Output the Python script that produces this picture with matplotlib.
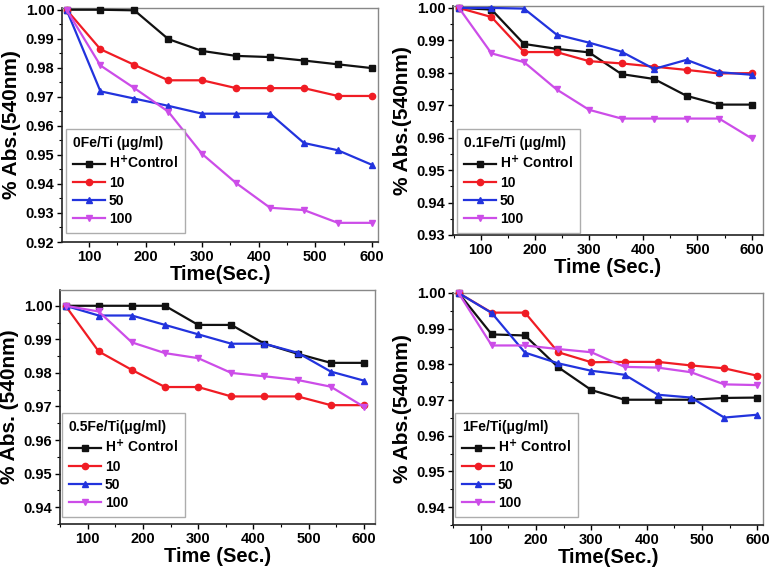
import numpy as np
import matplotlib
matplotlib.use('Agg')
import matplotlib.pyplot as plt
from matplotlib.ticker import MultipleLocator

plt.rcParams['font.family'] = ['Liberation Sans', 'DejaVu Sans']
plt.rcParams['font.weight'] = 'bold'

time = [60, 120, 180, 240, 300, 360, 420, 480, 540, 600]

# 0Fe/Ti
fe0_control = [1.000, 1.000, 0.9998, 0.9899, 0.9858, 0.9841, 0.9837, 0.9825, 0.9812, 0.9799]
fe0_10 = [1.000, 0.9864, 0.9810, 0.9757, 0.9757, 0.9730, 0.9730, 0.9730, 0.9703, 0.9703]
fe0_50 = [1.000, 0.9719, 0.9694, 0.9669, 0.9642, 0.9642, 0.9642, 0.9541, 0.9516, 0.9466]
fe0_100 = [1.000, 0.9808, 0.9730, 0.9649, 0.9503, 0.9403, 0.9318, 0.9310, 0.9266, 0.9266]

# 0.1Fe/Ti
fe01_control = [1.000, 0.9995, 0.9889, 0.9874, 0.9863, 0.9796, 0.9781, 0.9729, 0.9702, 0.9702]
fe01_10 = [1.000, 0.9972, 0.9864, 0.9864, 0.9836, 0.9829, 0.9819, 0.9809, 0.9798, 0.9799]
fe01_50 = [1.000, 1.000, 0.9998, 0.9918, 0.9893, 0.9865, 0.9812, 0.9840, 0.9802, 0.9794]
fe01_100 = [1.000, 0.9860, 0.9833, 0.9749, 0.9686, 0.9659, 0.9659, 0.9659, 0.9659, 0.9598]

# 0.5Fe/Ti
fe05_control = [1.000, 1.000, 1.000, 1.000, 0.9943, 0.9943, 0.9887, 0.9857, 0.9830, 0.9830]
fe05_10 = [1.000, 0.9864, 0.9809, 0.9758, 0.9758, 0.9730, 0.9730, 0.9730, 0.9704, 0.9704]
fe05_50 = [1.000, 0.9971, 0.9971, 0.9943, 0.9915, 0.9887, 0.9887, 0.9860, 0.9804, 0.9777]
fe05_100 = [1.000, 0.9983, 0.9891, 0.9859, 0.9844, 0.9800, 0.9790, 0.9779, 0.9759, 0.9699]

# 1Fe/Ti
fe1_control = [1.000, 0.9884, 0.9881, 0.9792, 0.9728, 0.9701, 0.9701, 0.9701, 0.9706, 0.9707]
fe1_10 = [1.000, 0.9945, 0.9945, 0.9834, 0.9806, 0.9807, 0.9807, 0.9797, 0.9789, 0.9768]
fe1_50 = [1.000, 0.9944, 0.9833, 0.9803, 0.9782, 0.9771, 0.9715, 0.9707, 0.9651, 0.9659]
fe1_100 = [1.000, 0.9853, 0.9853, 0.9843, 0.9834, 0.9793, 0.9791, 0.9778, 0.9744, 0.9742]

colors = ['#111111', '#f01c24', '#2233dd', '#cc4de8']
markers = ['s', 'o', '^', 'v']

W, H = 770, 574
fig = plt.figure(figsize=(7.7, 5.74), dpi=100)


def px_axes(left, top, right, bottom):
    return fig.add_axes([left / W, 1 - bottom / H, (right - left) / W, (bottom - top) / H])


panels = [
    dict(box=(62, 8, 378, 242), data=[fe0_control, fe0_10, fe0_50, fe0_100],
         ylim=(0.92, 1.0006), yticks=np.arange(0.92, 1.0001, 0.01), xlim=(52, 611),
         title='0Fe/Ti (\u03bcg/ml)', ctrl='H$^{+}$Control', xlabel='Time(Sec.)',
         ylabel='% Abs.(540nm)', leg=(66, 233)),
    dict(box=(453, 6, 763, 235), data=[fe01_control, fe01_10, fe01_50, fe01_100],
         ylim=(0.93, 1.0006), yticks=np.arange(0.93, 1.0001, 0.01), xlim=(49, 621),
         title='0.1Fe/Ti (\u03bcg/ml)', ctrl='H$^{+}$ Control', xlabel='Time (Sec.)',
         ylabel='% Abs.(540nm)', leg=(457, 233)),
    dict(box=(60, 290, 375, 524), data=[fe05_control, fe05_10, fe05_50, fe05_100],
         ylim=(0.935, 1.0047), yticks=np.arange(0.94, 1.0001, 0.01), xlim=(50, 620),
         title='0.5Fe/Ti(\u03bcg/ml)', ctrl='H$^{+}$ Control', xlabel='Time (Sec.)',
         ylabel='% Abs. (540nm)', leg=(62, 517)),
    dict(box=(453, 293, 763, 525), data=[fe1_control, fe1_10, fe1_50, fe1_100],
         ylim=(0.935, 1.0), yticks=np.arange(0.94, 1.0001, 0.01), xlim=(50, 610),
         title='1Fe/Ti(\u03bcg/ml)', ctrl='H$^{+}$ Control', xlabel='Time(Sec.)',
         ylabel='% Abs.(540nm)', leg=(455, 517)),
]

for p in panels:
    ax = px_axes(*p['box'])
    labels = [p['ctrl'], '10', '50', '100']
    lines = []
    for vals, c, m, lab in zip(p['data'], colors, markers, labels):
        ln, = ax.plot(time, vals, color=c, marker=m, markersize=4.5, lw=1.6,
                      label=lab, clip_on=False, zorder=3)
        lines.append(ln)
    ax.set_xlim(*p['xlim'])
    ax.set_ylim(*p['ylim'])
    ax.set_yticks(p['yticks'])
    ax.set_yticklabels(['%.2f' % v for v in p['yticks']])
    ax.set_xticks([100, 200, 300, 400, 500, 600])
    ax.xaxis.set_minor_locator(MultipleLocator(50))
    ax.yaxis.set_minor_locator(MultipleLocator(0.005))
    ax.tick_params(which='major', direction='out', length=3.5, width=1, labelsize=10.5, pad=2)
    ax.tick_params(which='minor', direction='out', length=2, width=0.8)
    for lab in ax.get_xticklabels() + ax.get_yticklabels():
        lab.set_fontweight('bold')
    for side in ['left', 'bottom']:
        ax.spines[side].set_color('#222222')
        ax.spines[side].set_linewidth(1.2)
    for side in ['top', 'right']:
        ax.spines[side].set_color('#888888')
        ax.spines[side].set_linewidth(1.0)
    ax.set_xlabel(p['xlabel'], fontsize=14.5, fontweight='bold', labelpad=1)
    ax.set_ylabel(p['ylabel'], fontsize=15, fontweight='bold', labelpad=3)

    l, b = p['leg']
    pos = ax.get_position()
    lx = (l / W - pos.x0) / pos.width
    ly = ((1 - b / H) - pos.y0) / pos.height
    leg = ax.legend(handles=lines, loc='lower left', bbox_to_anchor=(lx, ly),
                    title=p['title'], fontsize=10, title_fontsize=10,
                    frameon=True, fancybox=False, edgecolor='#999999',
                    handlelength=2.3, handletextpad=0.3, labelspacing=0.3,
                    borderpad=0.5, borderaxespad=0)
    leg.get_title().set_fontweight('bold')
    leg._legend_box.align = 'left'
    leg.get_frame().set_linewidth(1.0)
    for txt in leg.get_texts():
        txt.set_fontweight('bold')

fig.savefig('out.png', dpi=100)
